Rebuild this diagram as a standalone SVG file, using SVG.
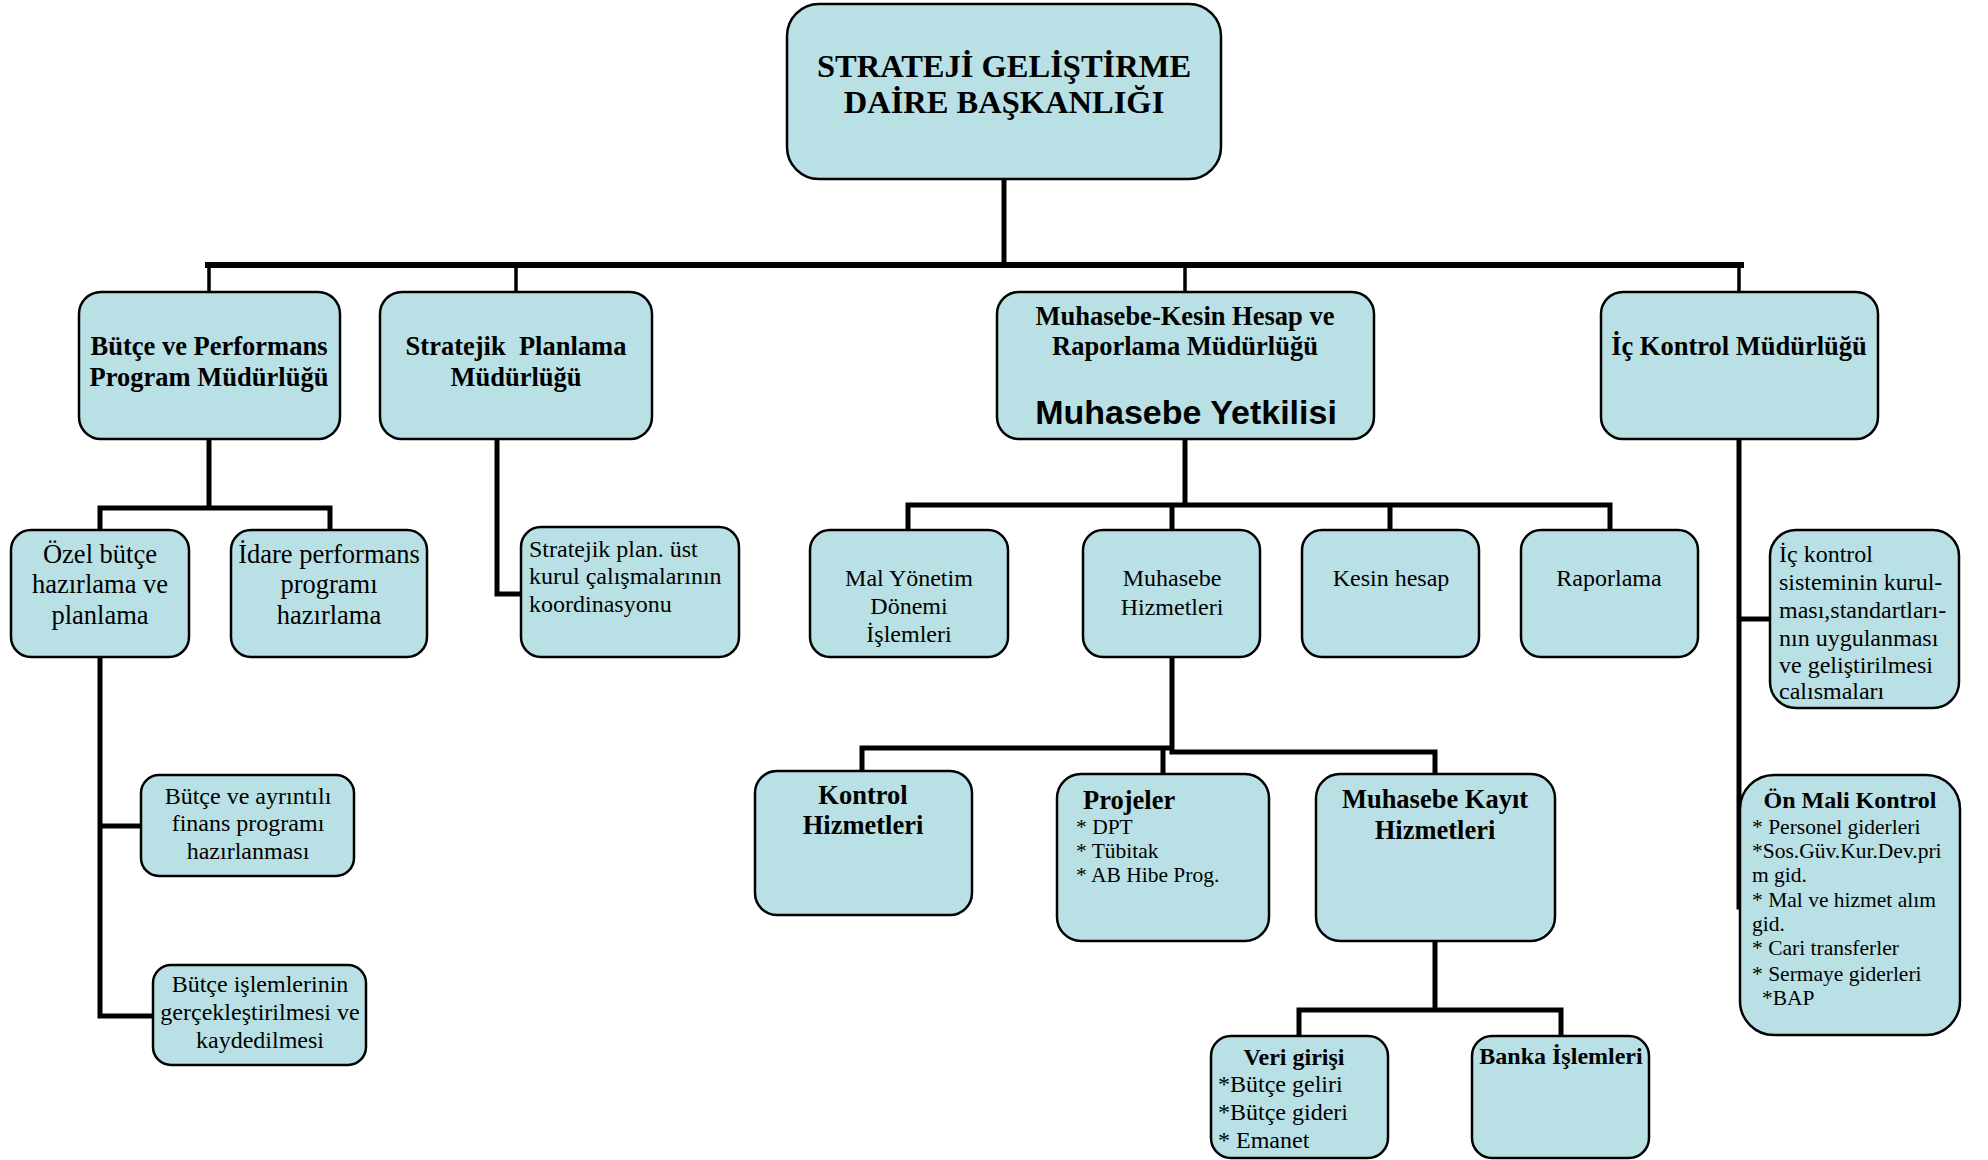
<svg xmlns="http://www.w3.org/2000/svg" width="1988" height="1160" viewBox="0 0 1988 1160">
<style>
.box{fill:#B9E0E4;stroke:#000;stroke-width:2.5}
.c{fill:none;stroke:#000;stroke-linecap:square}
.w3{stroke-width:3.5}
.w5{stroke-width:5}
text{font-family:"Liberation Serif","Times New Roman",serif;fill:#000}
.b{font-weight:bold}
.m{text-anchor:middle}
.t1{font-size:32.5px}
.t2{font-size:26.5px}
.t3{font-size:24px}
.t4{font-size:21.5px}
.t5{font-size:21.5px}
.pre{white-space:pre}
.sans{font-family:"Liberation Sans",Arial,sans-serif;font-weight:bold;font-size:34px}
</style>
<rect width="1988" height="1160" fill="#fff"/>
<g id="connectors">
<path class="c w5" d="M1004 179V265"/>
<path class="c" stroke-width="6" d="M208 265H1741"/>
<path class="c w3" d="M209 265V292M516 265V292M1185 265V292M1739 265V292"/>
<path class="c w5" d="M209 439V508M100 508H330M100 508V530M330 508V530"/>
<path class="c w5" d="M100 657V1016H153M100 826H141"/>
<path class="c w5" d="M497 439V594H521"/>
<path class="c w5" d="M1185 439V505M908 505H1610M908 505V529M1172 505V529M1390 505V529M1610 505V529"/>
<path class="c w5" d="M1172 657V752M862 748H1172M1172 752H1435M862 748V771M1163 752V774M1435 752V774"/>
<path class="c w5" d="M1435 941V1010M1299 1010H1561M1299 1010V1036M1561 1010V1036"/>
<path class="c w5" d="M1739 439V907M1739 619H1770"/>
</g>
<g id="n-root"><rect class="box" x="787" y="4" width="434" height="175" rx="32"/>
<text class="b m t1" x="1004" y="77">STRATEJİ GELİŞTİRME</text>
<text class="b m t1" x="1004" y="113">DAİRE BAŞKANLIĞI</text></g>
<g id="n-butce"><rect class="box" x="79" y="292" width="261" height="147" rx="22"/>
<text class="b m t2" x="209" y="355">Bütçe ve Performans</text>
<text class="b m t2" x="209" y="386">Program Müdürlüğü</text></g>
<g id="n-stratejik"><rect class="box" x="380" y="292" width="272" height="147" rx="22"/>
<text class="b m t2 pre" x="516" y="355">Stratejik  Planlama</text>
<text class="b m t2" x="516" y="386">Müdürlüğü</text></g>
<g id="n-muhasebe"><rect class="box" x="997" y="292" width="377" height="147" rx="22"/>
<text class="b m t2" x="1185" y="325">Muhasebe-Kesin Hesap ve</text>
<text class="b m t2" x="1185" y="355">Raporlama Müdürlüğü</text>
<text class="sans m" x="1186" y="424">Muhasebe Yetkilisi</text></g>
<g id="n-ickontrol"><rect class="box" x="1601" y="292" width="277" height="147" rx="22"/>
<text class="b m t2" x="1739" y="355">İç Kontrol Müdürlüğü</text></g>
<g id="n-ozel"><rect class="box" x="11" y="530" width="178" height="127" rx="20"/>
<text class="m t2" x="100" y="563">Özel bütçe</text>
<text class="m t2" x="100" y="593">hazırlama ve</text>
<text class="m t2" x="100" y="624">planlama</text></g>
<g id="n-idare"><rect class="box" x="231" y="530" width="196" height="127" rx="20"/>
<text class="m t2" x="329" y="563">İdare performans</text>
<text class="m t2" x="329" y="593">programı</text>
<text class="m t2" x="329" y="624">hazırlama</text></g>
<g id="n-stratplan"><rect class="box" x="521" y="527" width="218" height="130" rx="20"/>
<text class="t3" x="529" y="557">Stratejik plan. üst</text>
<text class="t3" x="529" y="584">kurul çalışmalarının</text>
<text class="t3" x="529" y="612">koordinasyonu</text></g>
<g id="n-ayrintili"><rect class="box" x="141" y="775" width="213" height="101" rx="18"/>
<text class="m t3" x="248" y="804">Bütçe ve ayrıntılı</text>
<text class="m t3" x="248" y="831">finans programı</text>
<text class="m t3" x="248" y="859">hazırlanması</text></g>
<g id="n-islemler"><rect class="box" x="153" y="965" width="213" height="100" rx="18"/>
<text class="m t3" x="260" y="992">Bütçe işlemlerinin</text>
<text class="m t3" x="260" y="1020">gerçekleştirilmesi ve</text>
<text class="m t3" x="260" y="1048">kaydedilmesi</text></g>
<g id="n-mal"><rect class="box" x="810" y="530" width="198" height="127" rx="20"/>
<text class="m t3" x="909" y="586">Mal Yönetim</text>
<text class="m t3" x="909" y="614">Dönemi</text>
<text class="m t3" x="909" y="642">İşlemleri</text></g>
<g id="n-muhhiz"><rect class="box" x="1083" y="530" width="177" height="127" rx="20"/>
<text class="m t3" x="1172" y="586">Muhasebe</text>
<text class="m t3" x="1172" y="615">Hizmetleri</text></g>
<g id="n-kesin"><rect class="box" x="1302" y="530" width="177" height="127" rx="20"/>
<text class="m t3" x="1391" y="586">Kesin hesap</text></g>
<g id="n-rapor"><rect class="box" x="1521" y="530" width="177" height="127" rx="20"/>
<text class="m t3" x="1609" y="586">Raporlama</text></g>
<g id="n-kontrol"><rect class="box" x="755" y="771" width="217" height="144" rx="22"/>
<text class="b m t2" x="863" y="804">Kontrol</text>
<text class="b m t2" x="863" y="834">Hizmetleri</text></g>
<g id="n-projeler"><rect class="box" x="1057" y="774" width="212" height="167" rx="24"/>
<text class="b t2" x="1083" y="809">Projeler</text>
<text class="t4" x="1076" y="834">* DPT</text>
<text class="t4" x="1076" y="858">* Tübitak</text>
<text class="t4" x="1076" y="882">* AB Hibe Prog.</text></g>
<g id="n-kayit"><rect class="box" x="1316" y="774" width="239" height="167" rx="24"/>
<text class="b m t2" x="1435" y="808">Muhasebe Kayıt</text>
<text class="b m t2" x="1435" y="839">Hizmetleri</text></g>
<g id="n-veri"><rect class="box" x="1211" y="1036" width="177" height="122" rx="20"/>
<text class="b m t3" x="1294" y="1065">Veri girişi</text>
<text class="t3" x="1218" y="1092">*Bütçe geliri</text>
<text class="t3" x="1218" y="1120">*Bütçe gideri</text>
<text class="t3" x="1218" y="1148">* Emanet</text></g>
<g id="n-banka"><rect class="box" x="1472" y="1036" width="177" height="122" rx="20"/>
<text class="b m t3" x="1561" y="1064">Banka İşlemleri</text></g>
<g id="n-icsistem"><rect class="box" x="1770" y="530" width="189" height="178" rx="26"/>
<text class="t3" x="1779" y="562">İç kontrol</text>
<text class="t3" x="1779" y="590">sisteminin kurul-</text>
<text class="t3" x="1779" y="618">ması,standartları-</text>
<text class="t3" x="1779" y="646">nın uygulanması</text>
<text class="t3" x="1779" y="673">ve geliştirilmesi</text>
<text class="t3" x="1779" y="699">calısmaları</text></g>
<g id="n-onmali"><rect class="box" x="1740" y="775" width="220" height="260" rx="34"/>
<text class="b m t3" x="1850" y="808">Ön Mali Kontrol</text>
<text class="t5" x="1752" y="834">* Personel giderleri</text>
<text class="t5" x="1752" y="858">*Sos.Güv.Kur.Dev.pri</text>
<text class="t5" x="1752" y="882">m gid.</text>
<text class="t5" x="1752" y="907">* Mal ve hizmet alım</text>
<text class="t5" x="1752" y="931">gid.</text>
<text class="t5" x="1752" y="955">* Cari transferler</text>
<text class="t5" x="1752" y="981">* Sermaye giderleri</text>
<text class="t5" x="1762" y="1005">*BAP</text></g>
</svg>
